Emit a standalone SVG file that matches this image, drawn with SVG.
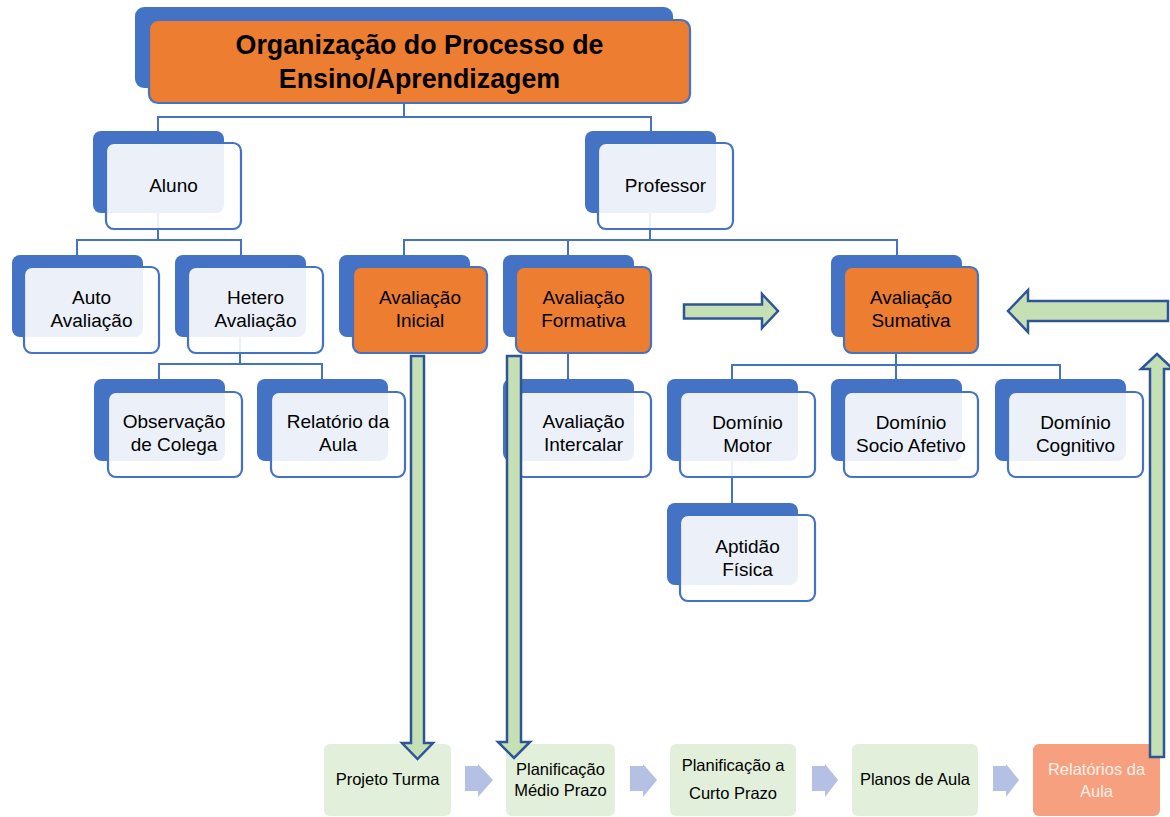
<svg xmlns="http://www.w3.org/2000/svg" width="1170" height="817" viewBox="0 0 1170 817">
<style>
.back{fill:#4472C4}
.front{fill:#fff;fill-opacity:.9;stroke:#4472C4;stroke-width:2.2}
.frontO{fill:#ED7D31;stroke:#4472C4;stroke-width:2.2}
.lbl{font-family:"Liberation Sans",Arial,sans-serif;font-size:19px;text-anchor:middle;fill:#000}
.title{font-family:"Liberation Sans",Arial,sans-serif;font-size:26.8px;font-weight:bold;text-anchor:middle;fill:#000}
.conn{fill:none;stroke:#4472C4;stroke-width:2}
.garrow{fill:#C5E0B4;stroke:#2F5597;stroke-width:2.5;stroke-linejoin:miter}
.step{fill:#E2EFDA}
.stepR{fill:#F7A07F}
.slbl{font-family:"Liberation Sans",Arial,sans-serif;font-size:16.5px;text-anchor:middle;fill:#000}
.slblW{font-family:"Liberation Sans",Arial,sans-serif;font-size:16.5px;text-anchor:middle;fill:#FDF0EA}
.chev{fill:#B4C0E4}
</style>
<rect width="1170" height="817" fill="#fff"/>
<g id="connectors">
<path class="conn" d="M404,103V117 M158,131V117H651V131"/>
<path class="conn" d="M158,213V240 M77,255V240H241V255"/>
<path class="conn" d="M240,337V364 M159,379V364H322V379"/>
<path class="conn" d="M650,213V240 M404,255V240H897V255 M568,240V255"/>
<path class="conn" d="M568,337V380"/>
<path class="conn" d="M896,337V365 M732,379V365H1060V379 M896,365V379"/>
<path class="conn" d="M732,461V503"/>
</g>
<g id="title">
<rect class="back" x="135" y="7" width="538" height="81" rx="9"/>
<rect class="frontO" x="149" y="20" width="541" height="83" rx="9"/>
<text class="title" x="419.5" y="54">Organização do Processo de</text>
<text class="title" x="419.5" y="88">Ensino/Aprendizagem</text>
</g>
<g id="aluno">
<rect class="back" x="93" y="131" width="131" height="82" rx="8"/>
<rect class="front" x="106" y="143" width="135" height="86" rx="8"/>
<text class="lbl" x="173.5" y="192">Aluno</text>
</g>
<g id="professor">
<rect class="back" x="585" y="131" width="131" height="82" rx="8"/>
<rect class="front" x="598" y="143" width="135" height="86" rx="8"/>
<text class="lbl" x="665.5" y="192">Professor</text>
</g>
<g id="auto">
<rect class="back" x="12" y="255" width="131" height="82" rx="8"/>
<rect class="front" x="24" y="267" width="135" height="86" rx="8"/>
<text class="lbl" x="91.5" y="304">Auto</text>
<text class="lbl" x="91.5" y="327">Avaliação</text>
</g>
<g id="hetero">
<rect class="back" x="175" y="255" width="131" height="82" rx="8"/>
<rect class="front" x="188" y="267" width="135" height="86" rx="8"/>
<text class="lbl" x="255.5" y="304">Hetero</text>
<text class="lbl" x="255.5" y="327">Avaliação</text>
</g>
<g id="inicial">
<rect class="back" x="339" y="255" width="131" height="82" rx="8"/>
<rect class="frontO" x="353" y="267" width="134" height="86" rx="8"/>
<text class="lbl" x="420" y="304">Avaliação</text>
<text class="lbl" x="420" y="327">Inicial</text>
</g>
<g id="formativa">
<rect class="back" x="503" y="255" width="131" height="82" rx="8"/>
<rect class="frontO" x="516" y="267" width="135" height="86" rx="8"/>
<text class="lbl" x="583.5" y="304">Avaliação</text>
<text class="lbl" x="583.5" y="327">Formativa</text>
</g>
<g id="sumativa">
<rect class="back" x="831" y="255" width="131" height="82" rx="8"/>
<rect class="frontO" x="844" y="267" width="134" height="86" rx="8"/>
<text class="lbl" x="911" y="304">Avaliação</text>
<text class="lbl" x="911" y="327">Sumativa</text>
</g>
<g id="observacao">
<rect class="back" x="94" y="379" width="131" height="82" rx="8"/>
<rect class="front" x="108" y="392" width="134" height="85" rx="8"/>
<text class="lbl" x="174" y="428">Observação</text>
<text class="lbl" x="174" y="451">de Colega</text>
</g>
<g id="relatorio">
<rect class="back" x="257" y="379" width="131" height="82" rx="8"/>
<rect class="front" x="271" y="392" width="134" height="85" rx="8"/>
<text class="lbl" x="338" y="428">Relatório da</text>
<text class="lbl" x="338" y="451">Aula</text>
</g>
<g id="intercalar">
<rect class="back" x="503" y="379" width="131" height="82" rx="8"/>
<rect class="front" x="516" y="392" width="135" height="85" rx="8"/>
<text class="lbl" x="583.5" y="428">Avaliação</text>
<text class="lbl" x="583.5" y="451">Intercalar</text>
</g>
<g id="motor">
<rect class="back" x="667" y="379" width="131" height="82" rx="8"/>
<rect class="front" x="680" y="392" width="135" height="85" rx="8"/>
<text class="lbl" x="747.5" y="429">Domínio</text>
<text class="lbl" x="747.5" y="452">Motor</text>
</g>
<g id="socio">
<rect class="back" x="831" y="379" width="131" height="82" rx="8"/>
<rect class="front" x="844" y="392" width="134" height="85" rx="8"/>
<text class="lbl" x="911" y="429">Domínio</text>
<text class="lbl" x="911" y="452">Socio Afetivo</text>
</g>
<g id="cognitivo">
<rect class="back" x="995" y="379" width="131" height="82" rx="8"/>
<rect class="front" x="1008" y="392" width="135" height="85" rx="8"/>
<text class="lbl" x="1075.5" y="429">Domínio</text>
<text class="lbl" x="1075.5" y="452">Cognitivo</text>
</g>
<g id="aptidao">
<rect class="back" x="667" y="503" width="131" height="82" rx="8"/>
<rect class="front" x="680" y="515" width="135" height="86" rx="8"/>
<text class="lbl" x="747.5" y="553">Aptidão</text>
<text class="lbl" x="747.5" y="576">Física</text>
</g>
<g id="process">
<g id="s1"><rect class="step" x="324" y="744" width="127" height="72" rx="6"/><text class="slbl" x="387.5" y="785">Projeto Turma</text></g>
<g id="s2"><rect class="step" x="506" y="744" width="109" height="72" rx="6"/><text class="slbl" x="560.5" y="775">Planificação</text><text class="slbl" x="560.5" y="796">Médio Prazo</text></g>
<g id="s3"><rect class="step" x="670" y="744" width="126" height="72" rx="6"/><text class="slbl" x="733" y="771">Planificação a</text><text class="slbl" x="733" y="799">Curto Prazo</text></g>
<g id="s4"><rect class="step" x="852" y="744" width="126" height="72" rx="6"/><text class="slbl" x="915" y="785">Planos de Aula</text></g>
<g id="s5"><rect class="stepR" x="1033" y="744" width="127" height="72" rx="6"/><text class="slblW" x="1096.5" y="775">Relatórios da</text><text class="slblW" x="1096.5" y="797">Aula</text></g>
<polygon class="chev" points="465,766 478,766 478,764 493,780 478,797 478,791 465,791"/>
<polygon class="chev" points="630,766 643,766 643,764 657,780 643,797 643,791 630,791"/>
<polygon class="chev" points="812,766 825,766 825,764 838,780 825,797 825,791 812,791"/>
<polygon class="chev" points="993,766 1006,766 1006,764 1019,780 1006,797 1006,791 993,791"/>
</g>
<g id="green-arrows">
<polygon class="garrow" points="684,304.5 762,304.5 762,294 778,311 762,328 762,318.5 684,318.5"/>
<polygon class="garrow" points="1168,301 1028,301 1028,290 1008,311 1028,332 1028,321 1168,321"/>
<polygon class="garrow" points="411,356 424,356 424,743 433,743 417.5,759 402,743 411,743"/>
<polygon class="garrow" points="507,356 521,356 521,742 530,742 514,758 498,742 507,742"/>
<polygon class="garrow" points="1150,757 1164,757 1164,369 1173,369 1157,354 1141,369 1150,369"/>
</g>
</svg>
